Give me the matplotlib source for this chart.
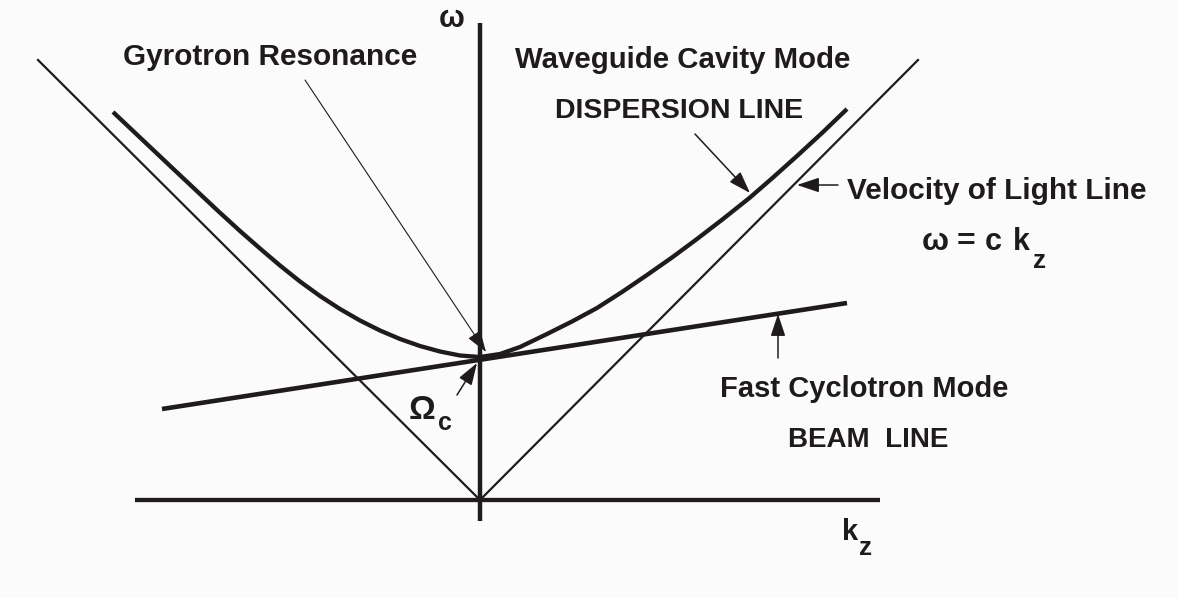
import matplotlib.pyplot as plt

# values, diagram origin at k=0, w=0 (units ~ pixels)
disp_k = [-367, -340, -313, -288, -263, -240, -220, -200, -180, -160, -140, -120, -100, -80, -60, -40, -20, 0,
          20, 40, 67, 92, 117, 142, 167, 192, 217, 243, 270, 293, 317, 342, 367]
disp_w = [388, 362.5, 337, 313.5, 290, 269, 251.5, 234.5, 218.5, 204, 191, 179.5, 169.5, 161, 154, 148.5, 144.5, 143,
          146, 153, 166, 178.5, 192, 208, 225, 242.5, 261, 281, 302.5, 322.5, 344, 367, 391]

light_k = [-442, 0, 438]
light_w = [440, 0, 440]

beam_k = [-318, 367]
beam_w = [91, 197]

kaxis_k = [-345, 400]
waxis_w = [-21, 477]

ink = '#1f1b1c'
bg = '#fbfbfb'

plt.rcParams['font.family'] = ['Liberation Sans', 'DejaVu Sans']

fig = plt.figure(figsize=(11.78, 5.98), dpi=100, facecolor=bg)
ax = fig.add_axes([0, 0, 1, 1])
ax.set_facecolor(bg)
ax.set_xlim(-480, 698)
ax.set_ylim(-98, 500)
ax.axis('off')

# axes of the diagram
ax.plot(kaxis_k, [0, 0], color=ink, lw=3.1, solid_capstyle='butt')
ax.plot([0, 0], waxis_w, color=ink, lw=3.2, solid_capstyle='butt')

# light lines, beam line, dispersion curve
ax.plot(light_k, light_w, color=ink, lw=1.6, solid_joinstyle='miter')
ax.plot(beam_k, beam_w, color=ink, lw=3.3, solid_capstyle='butt')
ax.plot(disp_k, disp_w, color=ink, lw=3.1, solid_capstyle='butt', solid_joinstyle='round')


def arrow(start, tip, lw=1.1):
    ax.annotate('', xy=tip, xytext=start,
                arrowprops=dict(arrowstyle='-|>,head_length=0.75,head_width=0.25',
                                mutation_scale=18, lw=lw, color=ink,
                                shrinkA=0, shrinkB=0))


arrow((-175, 420), (6, 148), lw=0.8)   # gyrotron resonance
arrow((215, 366), (270, 307))          # dispersion line
arrow((358, 315), (317, 315))          # light line
arrow((298, 142), (298, 186))          # beam line
arrow((-23, 105), (-3, 137))           # omega_c

txt = dict(ha='left', va='baseline', fontweight='bold', color=ink)
ax.text(-357, 435, 'Gyrotron Resonance', fontsize=21.4, **txt)
ax.text(35, 432, 'Waveguide Cavity Mode', fontsize=21.2, **txt)
ax.text(75, 382, 'DISPERSION LINE', fontsize=20.5, **txt)
ax.text(367, 301, 'Velocity of Light Line', fontsize=21.4, **txt)
# w = c k_z, placed piece by piece as in the reference
ax.text(442, 250, 'ω', fontsize=23, **txt)
ax.text(477, 250, '=', fontsize=23, **txt)
ax.text(505, 250, 'c', fontsize=22, **txt)
ax.text(533, 250, 'k', fontsize=22, **txt)
ax.text(553, 232, 'z', fontsize=19, **txt)
ax.text(240, 103, 'Fast Cyclotron Mode', fontsize=21, **txt)
ax.text(308, 53, 'BEAM  LINE', fontsize=20, **txt)
ax.text(-71, 81, 'Ω', fontsize=24, **txt)
ax.text(-42, 70, 'c', fontsize=18, **txt)
ax.text(362, -40, 'k', fontsize=21, **txt)
ax.text(379, -55, 'z', fontsize=19, **txt)
ax.text(-28, 473, 'ω', fontsize=22, ha='center', va='baseline', fontweight='bold', color=ink)

fig.savefig('out.png', dpi=100, facecolor=bg)
